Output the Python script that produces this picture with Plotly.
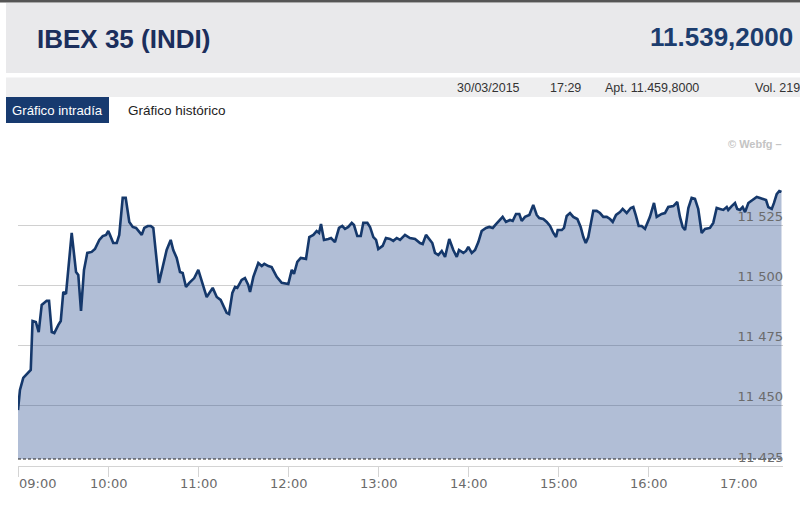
import plotly.graph_objects as go
import pandas as pd

# ---- data ----
session_start = "2015-03-30 09:00"
minutes_after_open = [
    0, 1.3, 3.5, 6.9, 8.5, 9.7, 11.9, 13.8, 15.8, 19.1, 20.7, 22.5, 24.2, 26.9, 28.5,
    30.2, 32, 35.8, 38.7, 40.2, 42, 44, 46.2, 49.1, 51.3, 54.2, 56.5, 58.7, 60.2, 61.3,
    63.5, 65.8, 67.5, 69.8, 71.8, 74.2, 76.5, 78.7, 80.9, 82.5, 84.2, 86.5, 88.5, 90.2,
    94, 96.9, 99.1, 101.8, 103.5, 105.8, 108, 109.8, 112, 114.2, 117.5, 120.2, 123.5,
    125.8, 129.8, 132.5, 135.1, 139.1, 140.7, 142.9, 144.7, 146.2, 149.1, 151.3, 153.5,
    154.7, 156.9, 160.2, 162.5, 164.2, 166.9, 169.1, 172.5, 175.8, 180.2, 182.5, 184,
    186.2, 188.5, 192, 194.2, 196.9, 199.1, 200.7, 202, 204, 206.9, 208.7, 211.3, 214,
    216.2, 218, 220.2, 222.5, 224, 226.2, 228.5, 230.2, 232.9, 234.7, 236.9, 238.7,
    240.2, 243.1, 245.3, 248, 250.2, 252.5, 254.7, 258, 261.3, 264.7, 268, 269.8, 272,
    274.7, 276.2, 278, 280.2, 282.5, 284.7, 287.5, 290.2, 292.5, 294, 296.9, 298.7,
    300.2, 302.5, 304.7, 306.9, 309.1, 312, 314.2, 316.5, 318.7, 321.3, 323.1, 325.3,
    328, 329.8, 332, 334.2, 335.8, 338, 340.9, 343.5, 345.8, 347.5, 350.2, 352.5, 354.7,
    356.9, 358.7, 359.8, 362.5, 364, 365.8, 368, 370.2, 372.9, 375.1, 376.9, 378.5,
    380.2, 383.5, 385.8, 388, 390.2, 392.5, 394.7, 396.5, 398.7, 401.3, 403.1, 405.8,
    408.5, 410.2, 411.8, 413.8, 415.8, 418, 421.3, 424, 425.8, 429.1, 431.3, 433.5,
    436.9, 439.5, 441.3, 443.1, 444.7, 446.9, 449.1, 451.3, 453.5, 455.8, 458, 461.3,
    463.5, 465.8, 468, 470.2, 472.5, 473.5, 475.8, 478, 479.5, 481.3, 483.1, 484.7,
    486.9, 490.2, 492.5, 494.7, 496.9, 498.7, 500.2, 502.5, 504, 505.8, 507.5, 509,
]
index_values = [
    11448.3, 11456.7, 11461.7, 11464.2, 11465.0, 11485.4, 11485.0, 11480.8, 11492.1,
    11493.8, 11493.8, 11480.8, 11480.4, 11483.8, 11485.4, 11497.5, 11496.7, 11522.1,
    11505.8, 11504.6, 11489.6, 11506.7, 11513.8, 11514.2, 11515.4, 11519.2, 11520.8,
    11521.3, 11522.9, 11521.3, 11517.9, 11517.9, 11521.3, 11536.7, 11536.7, 11526.7,
    11524.6, 11524.2, 11522.5, 11521.3, 11524.2, 11525.0, 11525.0, 11524.2, 11501.3,
    11509.6, 11515.0, 11519.2, 11515.0, 11511.7, 11505.8, 11505.4, 11499.6, 11501.3,
    11503.3, 11506.7, 11500.4, 11495.4, 11499.2, 11495.4, 11494.2, 11488.8, 11488.3,
    11497.1, 11499.6, 11499.2, 11502.5, 11503.3, 11500.4, 11497.5, 11503.8, 11509.6,
    11508.3, 11509.2, 11508.3, 11507.9, 11503.8, 11501.3, 11500.8, 11506.7, 11505.0,
    11510.0, 11511.7, 11511.3, 11520.4, 11521.3, 11522.9, 11522.1, 11525.8, 11519.2,
    11519.6, 11520.0, 11518.3, 11524.2, 11525.0, 11523.8, 11524.6, 11526.3, 11525.4,
    11520.8, 11520.8, 11526.3, 11526.3, 11524.6, 11520.4, 11519.2, 11515.4, 11516.7,
    11520.0, 11519.6, 11518.8, 11520.0, 11519.2, 11521.3, 11520.0, 11519.6, 11517.9,
    11517.5, 11521.3, 11519.2, 11517.9, 11513.8, 11512.9, 11514.6, 11512.1, 11519.6,
    11515.0, 11512.1, 11515.0, 11513.8, 11514.6, 11516.3, 11513.8, 11515.0, 11518.3,
    11522.9, 11524.2, 11524.6, 11524.2, 11525.8, 11527.5, 11528.8, 11526.7, 11527.5,
    11527.1, 11530.0, 11530.0, 11527.1, 11528.8, 11529.6, 11533.8, 11529.6, 11528.3,
    11527.9, 11526.7, 11525.0, 11522.1, 11520.4, 11523.3, 11523.3, 11524.2, 11529.2,
    11530.4, 11528.8, 11527.9, 11524.6, 11520.4, 11517.9, 11520.4, 11531.3, 11531.3,
    11530.4, 11528.8, 11528.8, 11527.9, 11526.7, 11529.6, 11530.8, 11532.1, 11530.4,
    11532.5, 11532.9, 11529.6, 11525.0, 11525.0, 11523.8, 11528.8, 11534.6, 11528.8,
    11530.0, 11530.4, 11532.9, 11533.3, 11535.0, 11528.8, 11524.6, 11523.3, 11532.5,
    11536.7, 11536.3, 11532.1, 11522.1, 11523.8, 11524.2, 11526.3, 11532.5, 11532.1,
    11531.7, 11532.9, 11531.7, 11533.3, 11534.6, 11532.1, 11531.7, 11532.9, 11530.8,
    11534.6, 11536.3, 11537.1, 11536.7, 11536.3, 11535.8, 11532.9, 11532.1, 11534.6,
    11538.3, 11539.6, 11539.2,
]
x_tick_labels = ["09:00", "10:00", "11:00", "12:00", "13:00", "14:00", "15:00", "16:00", "17:00"]
y_tick_values = [11450, 11475, 11500, 11525, 11550]
y_tick_labels = ["11 450", "11 475", "11 500", "11 525", ""]
y_axis_min_label = "11 425"
y_range = [11427.9, 11550]
x_range = ["2015-03-30 09:00", "2015-03-30 17:30"]

title_text = "IBEX 35 (INDI)"
last_price_text = "11.539,2000"
date_text = "30/03/2015"
time_text = "17:29"
open_text = "Apt. 11.459,8000"
volume_text = "Vol. 219"
tab_active = "Gráfico intradía"
tab_other = "Gráfico histórico"
credit_text = "© Webfg –"

# ---- build ----
times = pd.Timestamp(session_start) + pd.to_timedelta(minutes_after_open, unit="min")
tick_times = [pd.Timestamp("2015-03-30 " + t) for t in x_tick_labels]

W, H = 800, 509
B = 43
PH = H - B  # paper height in px (top margin 0)


def py(ypx):
    return (PH - ypx) / PH


def px(xpx):
    return xpx / W


NAVY = "#15386b"
AXIS_TXT = "#6b6b6b"
fig = go.Figure()
fig.add_trace(go.Scatter(
    x=times, y=index_values, mode="lines",
    line=dict(color=NAVY, width=2.6),
    fill="tozeroy", fillcolor="rgba(38,75,141,0.36)",
    hoverinfo="skip",
))

shapes = [
    dict(type="rect", xref="paper", yref="paper", x0=0, x1=1, y0=py(0), y1=py(2.5),
         fillcolor="#555555", line_width=0, layer="below"),
    dict(type="rect", xref="paper", yref="paper", x0=px(6), x1=1, y0=py(3), y1=py(73),
         fillcolor="#e9e9eb", line_width=0, layer="below"),
    dict(type="rect", xref="paper", yref="paper", x0=px(6), x1=1, y0=py(77.5), y1=py(97),
         fillcolor="#eeeeef", line_width=0, layer="below"),
    dict(type="rect", xref="paper", yref="paper", x0=px(6), x1=px(109), y0=py(97), y1=py(123),
         fillcolor="#173a6f", line_width=0, layer="below"),
    dict(type="line", xref="x domain", yref="y domain", x0=0, x1=1, y0=0, y1=0,
         line=dict(color="#222222", width=1, dash="3px,2px"), layer="above"),
]

ann_font = "Liberation Sans, Arial, sans-serif"
annotations = [
    dict(text=f"<b>{title_text}</b>", x=px(35), y=py(39), xanchor="left", yanchor="middle",
         font=dict(family=ann_font, size=26, color="#1b2e5c")),
    dict(text=f"<b>{last_price_text}</b>", x=px(795), y=py(37), xanchor="right", yanchor="middle",
         font=dict(family=ann_font, size=26, color="#1c3d6e")),
    dict(text=date_text, x=px(455), y=py(88), xanchor="left", yanchor="middle",
         font=dict(family=ann_font, size=12.5, color="#333333")),
    dict(text=time_text, x=px(548), y=py(88), xanchor="left", yanchor="middle",
         font=dict(family=ann_font, size=12.5, color="#333333")),
    dict(text=open_text, x=px(603), y=py(88), xanchor="left", yanchor="middle",
         font=dict(family=ann_font, size=12.5, color="#333333")),
    dict(text=volume_text, x=px(753), y=py(88), xanchor="left", yanchor="middle",
         font=dict(family=ann_font, size=12.5, color="#333333")),
    dict(text=tab_active, x=px(10), y=py(110), xanchor="left", yanchor="middle",
         font=dict(family=ann_font, size=13.2, color="#ffffff")),
    dict(text=tab_other, x=px(126), y=py(110), xanchor="left", yanchor="middle",
         font=dict(family=ann_font, size=13.5, color="#222222")),
    dict(text=f"<b>{credit_text}</b>", x=px(784), y=py(144), xanchor="right", yanchor="middle",
         font=dict(family=ann_font, size=11, color="#c4c4c4")),
    dict(text=y_axis_min_label, x=px(786), y=py(457), xanchor="right", yanchor="middle",
         font=dict(family="DejaVu Sans", size=13, color=AXIS_TXT)),
]
for a in annotations:
    a.update(xref="paper", yref="paper", showarrow=False)

# x tick labels as annotations placed at the axis' own tick values
for i, (t, lab) in enumerate(zip(tick_times, x_tick_labels)):
    annotations.append(dict(
        text=lab, x=t, xref="x", y=py(483), yref="paper",
        xanchor="left" if i == 0 else "center", yanchor="middle", showarrow=False,
        xshift=-1 if i == 0 else 0,
        font=dict(family="DejaVu Sans", size=13, color=AXIS_TXT),
    ))

fig.update_layout(
    width=W, height=H, autosize=False,
    margin=dict(l=0, r=0, t=0, b=B, pad=0),
    paper_bgcolor="white", plot_bgcolor="white",
    showlegend=False,
    shapes=shapes, annotations=annotations,
    xaxis=dict(
        domain=[18 / W, 783 / W], range=x_range, type="date",
        anchor="free", position=0,
        tickvals=tick_times, ticktext=x_tick_labels, showticklabels=False,
        showgrid=False, zeroline=False,
        showline=True, linecolor="#d4d4d4", linewidth=1,
        ticks="outside", ticklen=10, tickcolor="#d4d4d4", tickwidth=1,
    ),
    yaxis=dict(
        domain=[py(459), py(166)], range=y_range,
        side="right", ticklabelposition="inside top", ticklabelstandoff=-3,
        tickvals=y_tick_values, ticktext=y_tick_labels,
        showgrid=True, gridcolor="#d0d0d0", gridwidth=1,
        zeroline=False, showline=False, ticks="",
        tickfont=dict(family="DejaVu Sans", size=13, color=AXIS_TXT),
    ),
)

fig.write_html("out.html", config={"displayModeBar": False},
               post_script="document.body.style.margin='0';document.body.style.overflow='hidden';")
